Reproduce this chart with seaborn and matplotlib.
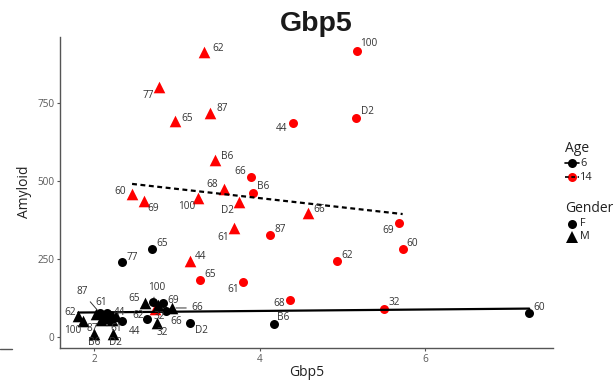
import matplotlib
matplotlib.use("Agg")
import matplotlib.pyplot as plt
from matplotlib.lines import Line2D
import pandas as pd
import seaborn as sns

# Gbp5 expression vs amyloid load, one point per strain and sex
# 14-month females
f14_strain = ["100", "D2", "44", "66", "B6", "87", "69", "60", "62", "65", "61", "68", "32"]
f14_gbp5 = [5.18, 5.17, 4.40, 3.90, 3.92, 4.13, 5.69, 5.73, 4.94, 3.28, 3.80, 4.37, 5.50]
f14_amyloid = [917, 702, 686, 513, 462, 327, 365, 282, 244, 183, 176, 119, 90]

# 14-month males
m14_strain = ["62", "77", "87", "65", "B6", "68", "60", "69", "100", "D2", "66", "61", "44", "32"]
m14_gbp5 = [3.33, 2.79, 3.40, 2.98, 3.46, 3.57, 2.46, 2.60, 3.26, 3.75, 4.59, 3.69, 3.16, 2.74]
m14_amyloid = [913, 801, 718, 692, 567, 474, 458, 436, 446, 433, 397, 349, 244, 90]

# 6-month females
f6_strain = ["77", "65", "60", "B6", "D2", "62", "44", "66", "100", "69", "87", "61", "68", "32"]
f6_gbp5 = [2.34, 2.70, 7.26, 4.18, 3.16, 2.64, 2.34, 2.87, 2.71, 2.83, 2.07, 2.16, 2.19, 2.12]
f6_amyloid = [240, 282, 77, 42, 45, 58, 51, 83, 112, 109, 77, 77, 71, 64]

# 6-month males
m6_strain = ["100", "B6", "D2", "87", "61", "62", "44", "65", "66", "32", "77", "68", "60", "69"]
m6_gbp5 = [1.87, 2.00, 2.23, 2.08, 2.22, 1.81, 2.19, 2.62, 2.94, 2.76, 2.02, 2.15, 2.27, 2.77]
m6_amyloid = [51, 10, 10, 54, 54, 67, 61, 109, 93, 45, 74, 61, 67, 103]

ages = [6, 14]
age_colors = {6: "black", 14: "red"}
age_lines = {6: "-", 14: (0, (2.2, 1.6))}
x_ticks = [2, 4, 6]
y_ticks = [0, 250, 500, 750]


def group(strain, gbp5, amyloid, age, sex):
    return pd.DataFrame({"Strain": strain, "Gbp5": gbp5, "Amyloid": amyloid,
                         "Age": age, "Gender": sex})


df = pd.concat([
    group(f14_strain, f14_gbp5, f14_amyloid, 14, "F"),
    group(m14_strain, m14_gbp5, m14_amyloid, 14, "M"),
    group(f6_strain, f6_gbp5, f6_amyloid, 6, "F"),
    group(m6_strain, m6_gbp5, m6_amyloid, 6, "M"),
], ignore_index=True)

# label placement (pixel offsets from the point, y downward); "L" adds a leader line
nudge = {
    (14, "M"): {"62": (14, -4), "77": (-11, 8), "87": (12, -4), "65": (12, -3), "B6": (12, -4),
                "68": (-12, -5), "60": (-12, -3), "69": (10, 8), "100": (-12, 9), "D2": (-11, 9),
                "66": (11, -4), "61": (-11, 9), "44": (11, -4), "32": (4, 8)},
    (14, "F"): {"100": (12, -7), "D2": (11, -6), "44": (-11, 6), "66": (-11, -5), "B6": (10, -6),
                "87": (10, -5), "69": (-11, 7), "60": (10, -6), "62": (10, -5), "65": (10, -5),
                "61": (-10, 7), "68": (-11, 4), "32": (11, -6)},
    (6, "F"): {"77": (10, -5), "65": (10, -6), "60": (10, -5), "B6": (9, -6), "D2": (11, 8),
               "62": (-9, -3), "44": (12, 10), "66": (10, 10), "100": (4, -15, "L"),
               "69": (10, -2), "87": (-18, -21, "L"), "61": (-6, -10)},
    (6, "M"): {"100": (-11, 9), "B6": (0, 9), "D2": (2, 9), "87": (-8, 8), "61": (4, 8),
               "62": (-8, -4), "44": (10, -5), "65": (-11, -4), "66": (25, 0, "L"), "32": (5, 10)},
}

sns.set_theme(style="white")
plt.rcParams["font.family"] = ["Open Sans", "DejaVu Sans"]

W, H = 616, 382
fig = plt.figure(figsize=(W / 100, H / 100), dpi=100)
ax = fig.add_axes([60 / W, 1 - 348 / H, 493 / W, 311 / H])

marker_size = {"F": 42, "M": 70}
marker_shape = {"F": "o", "M": "^"}
for age in [14, 6]:
    for sex in ["F", "M"]:
        sub = df[(df.Age == age) & (df.Gender == sex)]
        sns.scatterplot(data=sub, x="Gbp5", y="Amyloid", color=age_colors[age],
                        marker=marker_shape[sex], s=marker_size[sex], linewidth=0,
                        legend=False, ax=ax, zorder=2)

for age in ages:
    sub = df[df.Age == age]
    sns.regplot(data=sub, x="Gbp5", y="Amyloid", scatter=False, ci=None, truncate=True,
                color="black", line_kws={"lw": 1.6, "ls": age_lines[age], "zorder": 3}, ax=ax)

for _, r in df.iterrows():
    spec = nudge[(r.Age, r.Gender)].get(r.Strain)
    if spec is None:
        continue
    dx, dy = spec[0], spec[1]
    kw = {}
    if len(spec) > 2:
        kw["arrowprops"] = dict(arrowstyle="-", color="#333333", lw=0.7, shrinkA=1, shrinkB=3)
    ax.annotate(r.Strain, xy=(r.Gbp5, r.Amyloid), xytext=(dx, -dy), textcoords="offset pixels",
                ha="center", va="center", fontsize=7.2, color="#333333", zorder=4, **kw)

ax.set_xlim(1.589, 7.547)
ax.set_ylim(-35.3, 961.5)
ax.set_xticks(x_ticks)
ax.set_yticks(y_ticks)
ax.set_xlabel("")
ax.set_ylabel("")
for side in ["top", "right"]:
    ax.spines[side].set_visible(False)
for side in ["left", "bottom"]:
    ax.spines[side].set_color("#555555")
    ax.spines[side].set_linewidth(1.0)
ax.tick_params(axis="both", length=2.5, width=0.8, color="#555555",
               labelcolor="#5a5a5a", labelsize=7.2, pad=1.5, bottom=True, left=True)

fig.text(316 / W, 1 - 31 / H, "Gbp5", ha="center", va="baseline", fontsize=20.5,
         weight="bold", family=["Liberation Sans", "DejaVu Sans"], color="#1a1a1a")
fig.text(307 / W, 1 - 376 / H, "Gbp5", ha="center", va="baseline", fontsize=10, color="#222222")
fig.text(24 / W, 1 - 192 / H, "Amyloid", ha="center", va="center", rotation=90,
         fontsize=10, color="#222222")


# legend: Age (colour + fit line type) and Gender (shape)
def fx(px):
    return px / W


def fy(py):
    return 1 - py / H


def key(px, py, color, marker, ms, line=None):
    if line is not None:
        fig.add_artist(Line2D([fx(px - 7), fx(px + 7)], [fy(py), fy(py)], color="black",
                              lw=1.2, ls=line, zorder=6))
    fig.add_artist(Line2D([fx(px)], [fy(py)], color=color, marker=marker, ms=ms, lw=0,
                          markeredgewidth=0, zorder=5))


fig.text(fx(565), fy(149), "Age", ha="left", va="center", fontsize=10, color="#222222")
for i, age in enumerate(ages):
    y = 163 + 14 * i
    key(572, y, age_colors[age], "o", 6.5, line=age_lines[age])
    fig.text(fx(580), fy(y), str(age), ha="left", va="center", fontsize=7.8, color="#222222")

fig.text(fx(565), fy(208), "Gender", ha="left", va="center", fontsize=10, color="#222222")
for i, sex in enumerate(["F", "M"]):
    y = 224 + 13 * i
    key(572, y, "black", marker_shape[sex], 6.5 if sex == "F" else 8.5)
    fig.text(fx(580), fy(y), sex, ha="left", va="center", fontsize=7.8, color="#222222")

fig.add_artist(Line2D([0, fx(12)], [fy(349), fy(349)], color="#555555", lw=1.0))

fig.savefig("out.png", dpi=100)
